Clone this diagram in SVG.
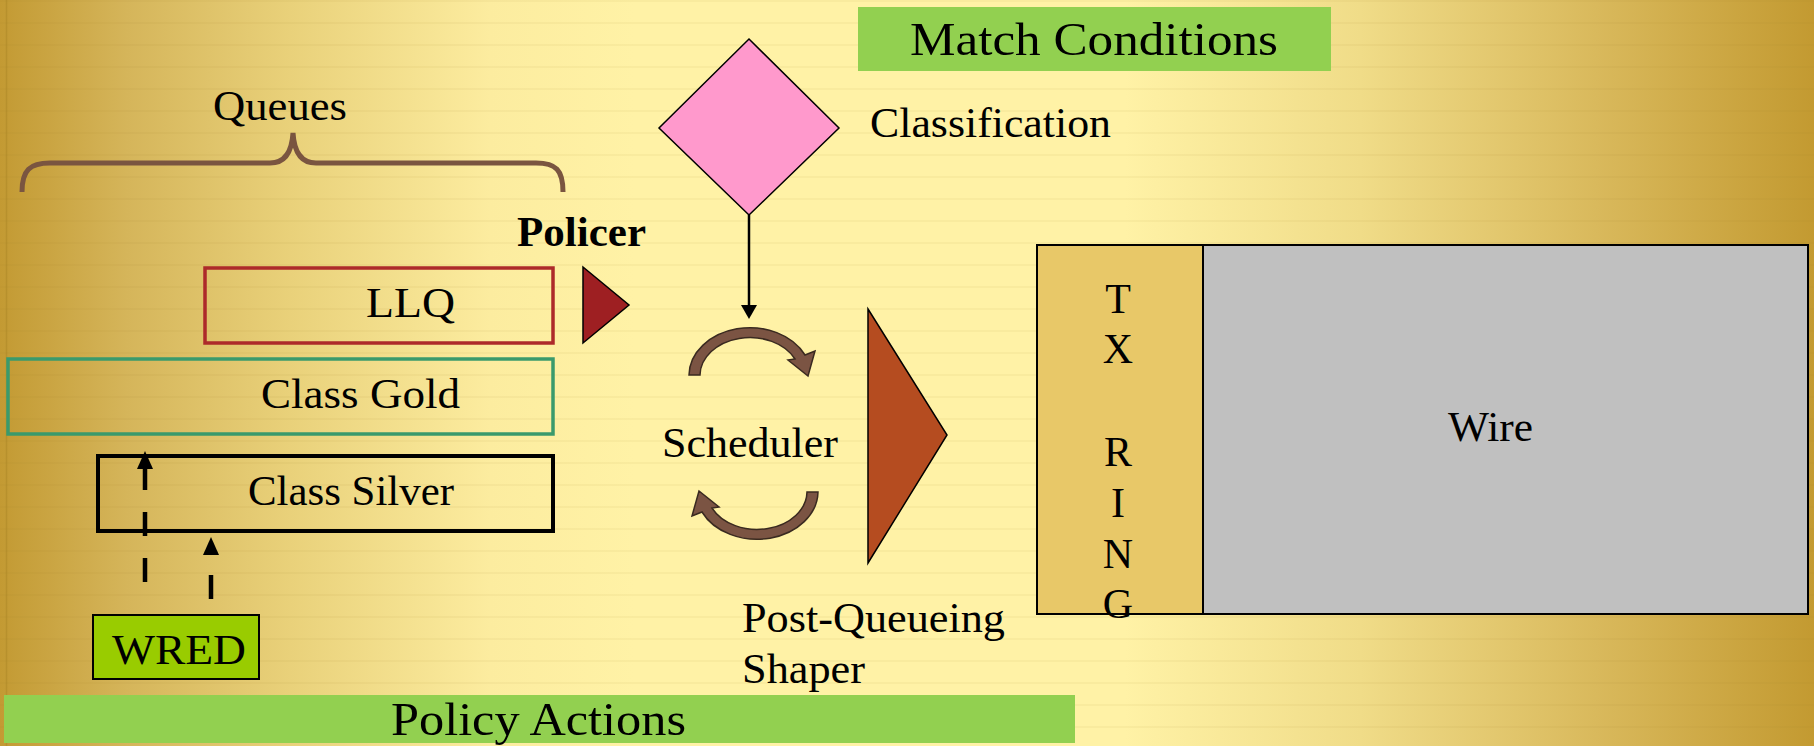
<svg xmlns="http://www.w3.org/2000/svg" width="1814" height="746" viewBox="0 0 1814 746">
<defs>
  <linearGradient id="bg" x1="0" y1="0" x2="1" y2="0">
    <stop offset="0" stop-color="#c39a33"/>
    <stop offset="0.07" stop-color="#d5b55a"/>
    <stop offset="0.16" stop-color="#e9d17a"/>
    <stop offset="0.27" stop-color="#fcec9f"/>
    <stop offset="0.35" stop-color="#fff2a6"/>
    <stop offset="0.62" stop-color="#fff2a6"/>
    <stop offset="0.75" stop-color="#f0dc88"/>
    <stop offset="0.88" stop-color="#d9b95c"/>
    <stop offset="1" stop-color="#c39a31"/>
  </linearGradient>
  <pattern id="stripes" width="20" height="22" patternUnits="userSpaceOnUse">
    <rect x="0" y="0" width="20" height="2" fill="#9a7a20" opacity="0.06"/>
  </pattern>
  <marker id="head" markerUnits="userSpaceOnUse" markerWidth="20" markerHeight="18" refX="0" refY="8" orient="auto">
    <path d="M0,0 L18,8 L0,16 z" fill="#000"/>
  </marker>
  <marker id="headSmall" markerUnits="userSpaceOnUse" markerWidth="16" markerHeight="18" refX="0" refY="8" orient="auto">
    <path d="M0,0 L14,8 L0,16 z" fill="#000"/>
  </marker>
</defs>
<style>
  text { font-family: "Liberation Serif", "Times New Roman", serif; font-size: 42px; fill: #000; }
  .bar { fill: #92d050; }
  .bartext { font-size: 46px; }
  .cycle { fill: #7b5443; stroke: #3a2a20; stroke-width: 1.5; }
  .dash { stroke: #000; stroke-width: 4.5; stroke-dasharray: 24 22; fill: none; }
</style>

<rect x="0" y="0" width="1814" height="746" fill="url(#bg)"/>
<rect x="0" y="0" width="1814" height="746" fill="url(#stripes)"/>
<line x1="6.5" y1="0" x2="6.5" y2="746" stroke="#b08a28" stroke-width="1.5" opacity="0.6"/>

<g id="match-conditions">
  <rect class="bar" x="858" y="7" width="473" height="64"/>
  <text class="bartext" x="910" y="55" textLength="368" lengthAdjust="spacingAndGlyphs">Match Conditions</text>
</g>

<g id="queues">
  <path d="M22,192 C22,170 30,163 50,163 L270,163 C286,163 292,150 293,133 C294,150 300,163 316,163 L536,163 C556,163 563,170 563,192" fill="none" stroke="#7a5540" stroke-width="5"/>
  <text x="213" y="120" textLength="134" lengthAdjust="spacingAndGlyphs">Queues</text>
</g>

<g id="policer">
  <text x="517" y="246" font-weight="bold" textLength="129" lengthAdjust="spacingAndGlyphs">Policer</text>
  <polygon points="583,267 629,305 583,343" fill="#9e1f22" stroke="#000" stroke-width="1.5"/>
</g>

<g id="llq">
  <rect x="205" y="268" width="348" height="75" fill="none" stroke="#ad2a2a" stroke-width="3.5"/>
  <text x="366" y="317" textLength="89" lengthAdjust="spacingAndGlyphs">LLQ</text>
</g>

<g id="class-gold">
  <rect x="8" y="359" width="545" height="75" fill="none" stroke="#3a9a6c" stroke-width="3.5"/>
  <text x="261" y="408" textLength="199" lengthAdjust="spacingAndGlyphs">Class Gold</text>
</g>

<g id="class-silver">
  <rect x="98" y="456" width="455" height="75" fill="none" stroke="#000" stroke-width="4"/>
  <text x="248" y="505" textLength="206" lengthAdjust="spacingAndGlyphs">Class Silver</text>
</g>

<g id="wred">
  <rect x="93" y="615" width="166" height="64" fill="#99cc00" stroke="#000" stroke-width="2"/>
  <text x="112" y="664" textLength="134" lengthAdjust="spacingAndGlyphs">WRED</text>
</g>

<g id="classification">
  <polygon points="749,39 839,128 749,215 659,128" fill="#ff99cc" stroke="#000" stroke-width="1.5"/>
  <text x="870" y="137" textLength="241" lengthAdjust="spacingAndGlyphs">Classification</text>
</g>

<g id="scheduler">
  <path class="cycle" d="M689,375 A61,48 0 0 1 805,355 L815,351 L808,376 L788,360 L795,359 A50,38 0 0 0 700,375 Z"/>
  <path class="cycle" transform="rotate(180 753.5 433.5)" d="M689,375 A61,48 0 0 1 805,355 L815,351 L808,376 L788,360 L795,359 A50,38 0 0 0 700,375 Z"/>
  <text x="662" y="457" textLength="176" lengthAdjust="spacingAndGlyphs">Scheduler</text>
</g>

<g id="shaper">
  <polygon points="868,309 947,435 868,563" fill="#b54c20" stroke="#000" stroke-width="1.5"/>
  <text x="742" y="632" textLength="263" lengthAdjust="spacingAndGlyphs">Post-Queueing</text>
  <text x="742" y="683" textLength="123" lengthAdjust="spacingAndGlyphs">Shaper</text>
</g>

<g id="tx-ring">
  <rect x="1037" y="245" width="166" height="369" fill="#e8c868" stroke="#000" stroke-width="2"/>
  <g text-anchor="middle">
    <text x="1118" y="313">T</text>
    <text x="1118" y="363">X</text>
    <text x="1118" y="466">R</text>
    <text x="1118" y="517">I</text>
    <text x="1118" y="568">N</text>
    <text x="1118" y="618">G</text>
  </g>
</g>

<g id="wire">
  <rect x="1203" y="245" width="605" height="369" fill="#c0c0c0" stroke="#000" stroke-width="2"/>
  <text x="1448" y="441" textLength="85" lengthAdjust="spacingAndGlyphs">Wire</text>
</g>

<g id="policy-actions">
  <rect class="bar" x="4" y="695" width="1071" height="48"/>
  <text class="bartext" x="391" y="735" font-size="47" textLength="295" lengthAdjust="spacingAndGlyphs">Policy Actions</text>
</g>

<g id="connectors">
  <line x1="749" y1="215" x2="749" y2="305" stroke="#000" stroke-width="2.5" marker-end="url(#headSmall)"/>
  <line class="dash" x1="145" y1="582" x2="145" y2="469" marker-end="url(#head)"/>
  <line class="dash" x1="211" y1="599" x2="211" y2="555" marker-end="url(#head)"/>
</g>
</svg>
